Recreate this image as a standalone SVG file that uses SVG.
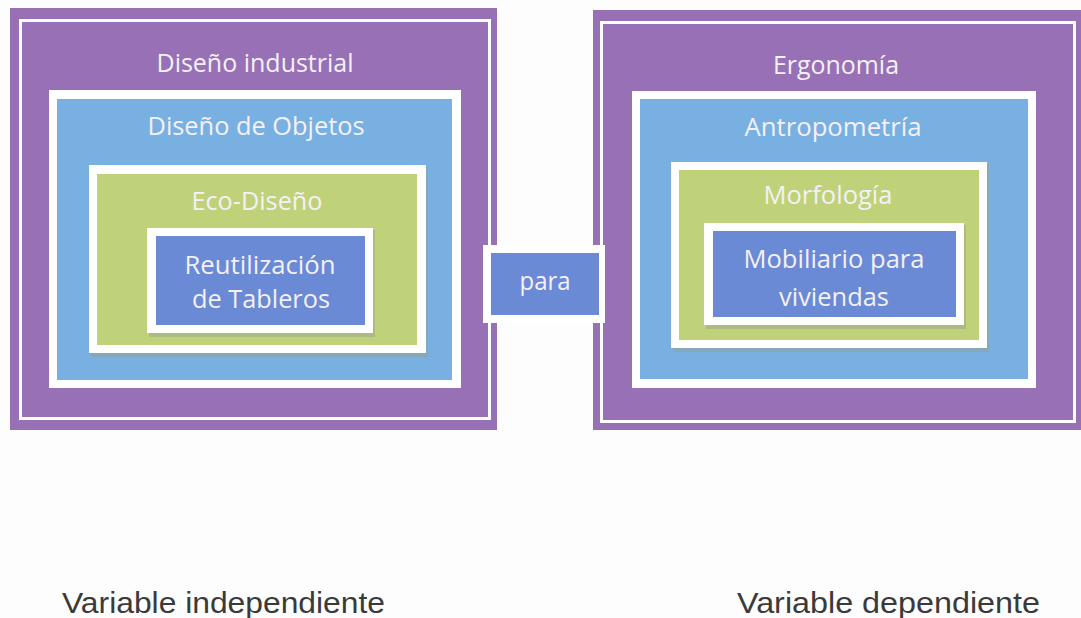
<svg xmlns="http://www.w3.org/2000/svg" width="1081" height="618" viewBox="0 0 1081 618">
<style>
.purple{fill:#9870b6}
.blue{fill:#79b0e2}
.green{fill:#bfd279}
.dblue{fill:#6a8ad6}
.wb{fill:#ffffff}
.shadow{fill:#9aa08a;opacity:0.45}
.wline{fill:none;stroke:#ffffff;stroke-width:3}
.lbl{font-family:"Open Sans","Noto Sans",sans-serif;font-size:25px;fill:#f4f0f8;text-anchor:middle}
.cap{font-family:"Liberation Sans",Arial,sans-serif;font-size:29px;fill:#3a3a3a}
</style>
<rect width="1081" height="618" fill="#fdfdfd"/>

<g id="left">
  <rect class="purple" x="10" y="8" width="487" height="422"/>
  <rect class="wline" x="20.5" y="20.5" width="469" height="398"/>
  <text class="lbl" x="255" y="72" textLength="197" lengthAdjust="spacingAndGlyphs">Diseño industrial</text>
  <g id="objetos">
    <rect class="wb" x="49" y="90" width="412" height="298"/>
    <rect class="blue" x="57" y="99" width="395" height="281"/>
    <text class="lbl" x="256" y="135" textLength="217" lengthAdjust="spacingAndGlyphs">Diseño de Objetos</text>
  </g>
  <g id="ecodiseno">
    <rect class="shadow" x="91" y="167" width="337" height="190"/>
    <rect class="wb" x="89" y="165" width="337" height="188"/>
    <rect class="green" x="97" y="174" width="320" height="171"/>
    <text class="lbl" x="257" y="210" textLength="131" lengthAdjust="spacingAndGlyphs">Eco-Diseño</text>
  </g>
  <g id="reutilizacion">
    <rect class="shadow" x="149" y="230" width="226" height="107"/>
    <rect class="wb" x="147" y="228" width="226" height="105"/>
    <rect class="dblue" x="156" y="236" width="209" height="89"/>
    <text class="lbl" x="260" y="274" textLength="151" lengthAdjust="spacingAndGlyphs">Reutilización</text>
    <text class="lbl" x="261" y="308" textLength="138" lengthAdjust="spacingAndGlyphs">de Tableros</text>
  </g>
</g>

<g id="right">
  <rect class="purple" x="593" y="10" width="488" height="420"/>
  <rect class="wline" x="601.5" y="22.5" width="473" height="399"/>
  <text class="lbl" x="836" y="74" textLength="126" lengthAdjust="spacingAndGlyphs">Ergonomía</text>
  <g id="antropometria">
    <rect class="wb" x="632" y="91" width="404" height="297"/>
    <rect class="blue" x="640" y="99" width="388" height="280"/>
    <text class="lbl" x="833" y="136" textLength="177" lengthAdjust="spacingAndGlyphs">Antropometría</text>
  </g>
  <g id="morfologia">
    <rect class="shadow" x="673" y="164" width="316" height="188"/>
    <rect class="wb" x="671" y="162" width="316" height="186"/>
    <rect class="green" x="679" y="170" width="300" height="170"/>
    <text class="lbl" x="828" y="204" textLength="129" lengthAdjust="spacingAndGlyphs">Morfología</text>
  </g>
  <g id="mobiliario">
    <rect class="shadow" x="706" y="225" width="260" height="104"/>
    <rect class="wb" x="704" y="223" width="260" height="102"/>
    <rect class="dblue" x="713" y="231" width="243" height="86"/>
    <text class="lbl" x="834" y="268" textLength="181" lengthAdjust="spacingAndGlyphs">Mobiliario para</text>
    <text class="lbl" x="834" y="306" textLength="110" lengthAdjust="spacingAndGlyphs">viviendas</text>
  </g>
</g>

<g id="para">
  <rect class="wb" x="483" y="245" width="122" height="78"/>
  <rect class="dblue" x="491" y="253" width="108" height="62"/>
  <text class="lbl" x="545" y="290" textLength="51" lengthAdjust="spacingAndGlyphs">para</text>
</g>

<g id="connectors"></g>

<text class="cap" x="62" y="613" textLength="323" lengthAdjust="spacingAndGlyphs">Variable independiente</text>
<text class="cap" x="737" y="613" textLength="303" lengthAdjust="spacingAndGlyphs">Variable dependiente</text>
</svg>
